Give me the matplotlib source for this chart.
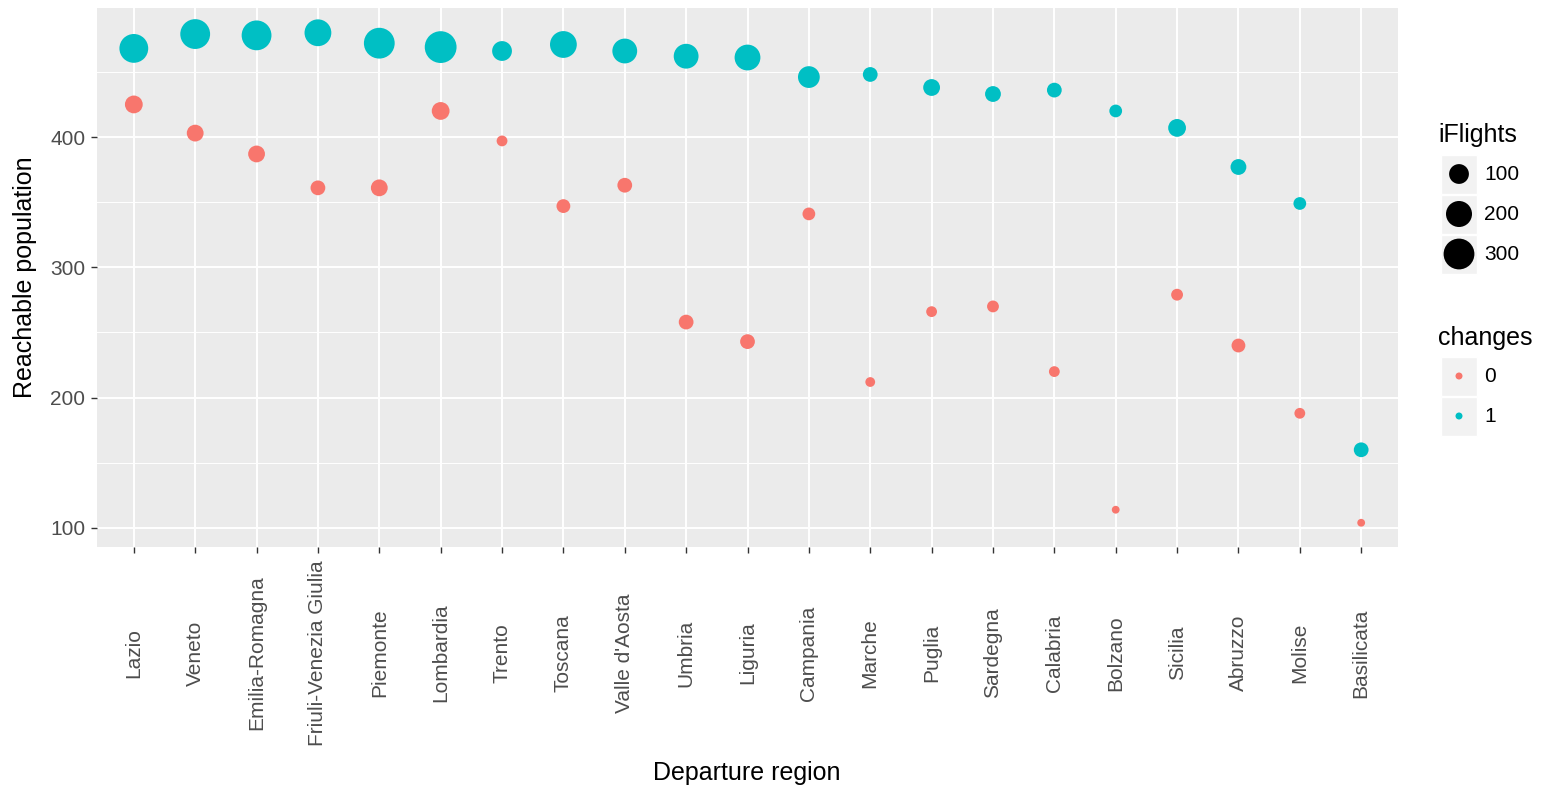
import matplotlib
matplotlib.use("Agg")
import matplotlib.pyplot as plt
import numpy as np
from matplotlib.patches import Rectangle

plt.rcParams['font.family'] = ['Liberation Sans', 'DejaVu Sans']

regions = ["Lazio", "Veneto", "Emilia-Romagna", "Friuli-Venezia Giulia", "Piemonte",
           "Lombardia", "Trento", "Toscana", "Valle d'Aosta", "Umbria", "Liguria",
           "Campania", "Marche", "Puglia", "Sardegna", "Calabria", "Bolzano",
           "Sicilia", "Abruzzo", "Molise", "Basilicata"]

# changes = 0 (direct flights)
pop_direct = [425, 403, 387, 361, 361, 420, 397, 347, 363, 258, 243, 341, 212, 266,
              270, 220, 114, 279, 240, 188, 104]
flights_direct = [75, 64, 64, 44, 64, 75, 16, 36, 44, 44, 44, 28, 11, 16, 22, 16,
                  4, 22, 36, 16, 4]

# changes = 1
pop_one = [468, 479, 478, 480, 472, 469, 466, 471, 466, 462, 461, 446, 448, 438,
           433, 436, 420, 407, 377, 349, 160]
flights_one = [256, 278, 278, 215, 300, 324, 100, 215, 178, 178, 196, 128, 44, 64,
               54, 44, 28, 75, 54, 28, 44]

size_breaks = [100, 200, 300]
change_levels = ["0", "1"]
change_colors = ["#F8766D", "#00BFC4"]

W, H, DPI = 1544, 787, 100


def marker_area(n):
    # diameter in pixels grows with sqrt of flight count, converted to pt^2
    d_px = 4.8 + 1.5 * np.sqrt(np.asarray(n, dtype=float))
    return (d_px * 72 / DPI) ** 2


fig = plt.figure(figsize=(W / DPI, H / DPI), dpi=DPI)
ax = fig.add_axes([97 / W, 1 - 547 / H, (1398 - 97) / W, (547 - 8) / H])
ax.set_facecolor("#EBEBEB")

x = np.arange(len(regions))
ax.scatter(x, pop_direct, s=marker_area(flights_direct), c=change_colors[0],
           edgecolors='none', zorder=3)
ax.scatter(x, pop_one, s=marker_area(flights_one), c=change_colors[1],
           edgecolors='none', zorder=3)

ax.set_xlim(-0.6, len(regions) - 0.4)
ax.set_ylim(85.4, 499)
ax.set_yticks([100, 200, 300, 400])
ax.set_yticks([150, 250, 350, 450], minor=True)
ax.set_xticks(x)
ax.set_xticklabels(regions, rotation=90, va='center', ha='center')

ax.grid(which='major', color='white', linewidth=1.4)
ax.grid(which='minor', axis='y', color='white', linewidth=0.7)
ax.set_axisbelow(True)
for sp in ax.spines.values():
    sp.set_visible(False)

ax.tick_params(which='major', length=4.3, width=1, color='#333333',
               labelcolor='#4D4D4D', labelsize=15)
ax.tick_params(axis='y', pad=4)
ax.tick_params(axis='x', pad=72)
ax.tick_params(which='minor', length=0)

fig.text(25 / W, 1 - 277 / H, "Reachable population", rotation=90,
         ha='center', va='center', fontsize=18)
fig.text(747 / W, 1 - 773 / H, "Departure region", ha='center', va='center',
         fontsize=18)

# legends drawn in pixel space
lax = fig.add_axes([0, 0, 1, 1])
lax.set_xlim(0, W)
lax.set_ylim(H, 0)
lax.axis('off')

lax.text(1438, 135, "iFlights", ha='left', va='center', fontsize=18)
for i, b in enumerate(size_breaks):
    cy = 174 + 40 * i
    lax.add_patch(Rectangle((1441, cy - 19.5), 36, 39, facecolor='#F2F2F2',
                            edgecolor='white', lw=1))
    lax.scatter([1459], [cy], s=marker_area(b), c='black', edgecolors='none')
    lax.text(1484, cy, str(b), ha='left', va='center', fontsize=15)

lax.text(1438, 338, "changes", ha='left', va='center', fontsize=18)
for i, (lvl, col) in enumerate(zip(change_levels, change_colors)):
    cy = 376 + 40 * i
    lax.add_patch(Rectangle((1441, cy - 19.5), 36, 39, facecolor='#F2F2F2',
                            edgecolor='white', lw=1))
    lax.scatter([1459], [cy], s=(7 * 72 / DPI) ** 2, c=col, edgecolors='none')
    lax.text(1484, cy, lvl, ha='left', va='center', fontsize=15)

fig.savefig("out.png", dpi=DPI)
